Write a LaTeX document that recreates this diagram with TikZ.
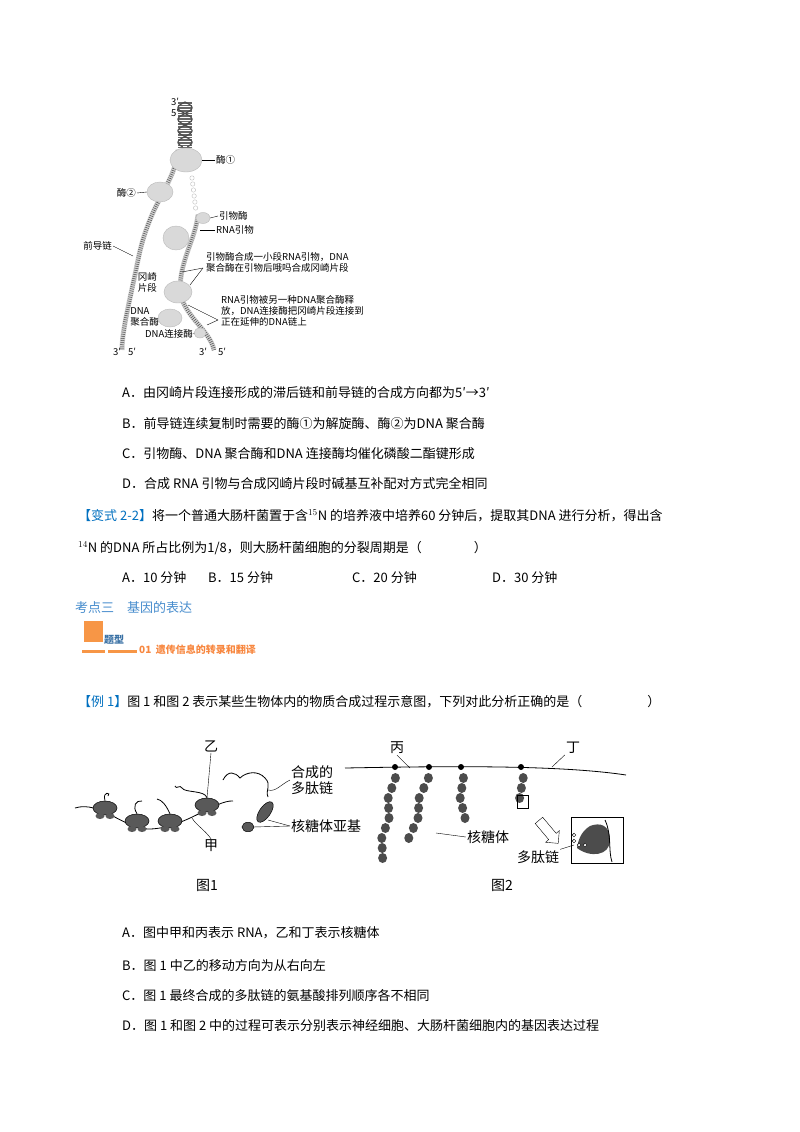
\documentclass[tikz,border=0pt]{standalone}
\usepackage{fontspec}
\setmainfont{Liberation Serif}
\newfontfamily\cjk{Noto Sans CJK SC}
\usetikzlibrary{positioning, shapes.arrows, shapes.geometric}
\definecolor{qblue}{RGB}{0,112,192}
\definecolor{kblue}{RGB}{70,140,205}
\definecolor{korange}{RGB}{247,150,70}
\tikzset{
  line/.style={anchor=base west, inner sep=0pt, font=\fontsize{13}{15}\selectfont\cjk},
  small/.style={inner sep=1pt, font=\fontsize{9.5}{11}\selectfont\cjk, align=left},
  fig/.style={inner sep=1pt, font=\fontsize{14}{16}\selectfont\cjk, align=left},
  blob/.style={fill=gray!30, draw=gray!55, line width=0.4pt},
  ladder/.style={line width=5pt, gray!35},
  rungs/.style={line width=4pt, dash pattern=on 0.5pt off 1.6pt, black!70},
  ribo/.style={fill=black!65, draw=black, line width=0.5pt},
}
\begin{document}
\begin{tikzpicture}[x=1pt,y=-1pt]
\useasboundingbox (0,0) rectangle (800,1132);
\fill[white] (0,0) rectangle (800,1132);

% replication fork
\draw[ladder] (178,150) .. controls (175,185) and (150,200) .. (138,260) .. controls (130,300) and (122,330) .. (122,350);
\draw[rungs] (178,150) .. controls (175,185) and (150,200) .. (138,260) .. controls (130,300) and (122,330) .. (122,350);
\draw[ladder] (198,215) .. controls (195,240) and (180,260) .. (180,290) .. controls (182,315) and (210,330) .. (214,350);
\draw[rungs] (198,215) .. controls (195,240) and (180,260) .. (180,290) .. controls (182,315) and (210,330) .. (214,350);
\foreach \i in {0,...,28}{
  \draw[black!60] ({178+0*\i},{102+1.6*\i}) -- ({192},{102+1.6*\i});
}
\draw[black!70, line width=1.2pt] plot[domain=0:14, samples=60] ({185+7*sin(\x*50)},{102+3.2*\x});
\draw[black!70, line width=1.2pt] plot[domain=0:14, samples=60] ({185-7*sin(\x*50)},{102+3.2*\x});
\foreach \y in {178,184,190,196,202,208}{
  \draw[gray!50, fill=white] ({192+0.12*(\y-178)},\y) circle (2.2pt);
}
\node[blob, ellipse, minimum width=32pt, minimum height=24pt] (e1) at (186,160) {};
\node[blob, ellipse, minimum width=26pt, minimum height=20pt] (e2) at (160,192) {};
\node[blob, ellipse, minimum width=14pt, minimum height=11pt] (prm) at (203,218) {};
\node[blob, ellipse, minimum width=26pt, minimum height=24pt] (pol1) at (176,238) {};
\node[blob, ellipse, minimum width=28pt, minimum height=22pt] (pol2) at (178,292) {};
\node[blob, ellipse, minimum width=24pt, minimum height=18pt] (pol3) at (170,318) {};
\node[blob, ellipse, minimum width=12pt, minimum height=10pt] (lig) at (200,333) {};

\node[small, anchor=west] (l1) at (215,160) {酶①};
\draw (l1.west) -- (e1.east);
\node[small, anchor=east] (l2) at (137,193) {酶②};
\draw (l2.east) -- (e2.west);
\node[small, anchor=west] (l3) at (218,216) {引物酶};
\draw (l3.west) -- (prm.east);
\node[small, anchor=west] (l4) at (215,230) {RNA引物};
\draw (l4.west) -- (200,230);
\node[small, anchor=east] (l5) at (113,246) {前导链};
\draw (l5.east) -- (133,256);
\node[small, anchor=west] (l6) at (205,262) {引物酶合成一小段RNA引物，DNA\\聚合酶在引物后哦吗合成冈崎片段};
\coordinate (c6) at (203,268);
\draw (c6) -- (182,272);
\draw (c6) -- (190,285);
\node[small, anchor=east] (l7) at (158,282) {冈崎\\片段};
\node[small, anchor=west] (l8) at (220,311) {RNA引物被另一种DNA聚合酶释\\放，DNA连接酶把冈崎片段连接到\\正在延伸的DNA链上};
\coordinate (c8) at (218,320);
\draw (c8) -- (188,305);
\draw (c8) -- (207,325);
\node[small, anchor=east] (l9) at (160,317) {DNA\\聚合酶};
\node[small, anchor=east] (l10) at (194,334) {DNA连接酶};
\draw (l10.east) -- (lig.west);
\node[small] (t3) at (175,102) {3′};
\node[small] (t5) at (175,113) {5′};
\node[small] (b3a) at (117,352) {3′};
\node[small] (b5a) at (132,352) {5′};
\node[small] (b3b) at (203,352) {3′};
\node[small] (b5b) at (222,352) {5′};

% questions
\node[line] (qa) at (122,397) {A．由冈崎片段连接形成的滞后链和前导链的合成方向都为5′→3′};
\node[line] (qb) at (122,428) {B．前导链连续复制时需要的酶①为解旋酶、酶②为DNA 聚合酶};
\node[line] (qc) at (122,458) {C．引物酶、DNA 聚合酶和DNA 连接酶均催化磷酸二酯键形成};
\node[line] (qd) at (122,488) {D．合成 RNA 引物与合成冈崎片段时碱基互补配对方式完全相同};
\node[line] (v1) at (78,520) {\textcolor{qblue}{【变式 2-2】}将一个普通大肠杆菌置于含$^{15}$N 的培养液中培养60 分钟后，提取其DNA 进行分析，得出含};
\node[line] (v2) at (78,552) {$^{14}$N 的DNA 所占比例为1/8，则大肠杆菌细胞的分裂周期是（　　　　）};
\node[line] (oa) at (122,582) {A．10 分钟};
\node[line] (ob) at (208,582) {B．15 分钟};
\node[line] (oc) at (352,582) {C．20 分钟};
\node[line] (od) at (492,582) {D．30 分钟};
\node[line, text=kblue] (kd) at (75,612) {考点三　基因的表达};
\fill[korange] (84,621) rectangle (103,642);
\fill[korange] (82,650) rectangle (105,653);
\fill[korange] (108,650) rectangle (137,653);
\node[inner sep=0pt, anchor=base west, font=\fontsize{10}{12}\selectfont\cjk\bfseries, text=kblue!80!black] (tx) at (104,643) {题型};
\node[inner sep=0pt, anchor=base west, font=\fontsize{10}{12}\selectfont\cjk\bfseries, text=korange!90!red] (tt) at (139,653) {01 \ 遗传信息的转录和翻译};
\node[line] (ex) at (78,706) {\textcolor{qblue}{【例 1】}图 1 和图 2 表示某些生物体内的物质合成过程示意图，下列对此分析正确的是（　　　　　）};

% figure 1
\draw[line width=0.8pt] (75,808) .. controls (100,800) and (125,830) .. (150,829) .. controls (185,828) and (215,800) .. (233,801);
\foreach \x/\y [count=\k] in {105/808, 137/821, 170/821, 207/805}{
  \node[ribo, ellipse, minimum width=24pt, minimum height=14pt] (r\k) at (\x,\y) {};
  \fill[black!65] (\x-5,\y+8) ellipse (4.5pt and 3pt);
  \fill[black!65] (\x+5,\y+8) ellipse (4.5pt and 3pt);
}
\draw[line width=0.8pt] (r1.north) .. controls (102,790) and (112,793) .. (108,796);
\draw[line width=0.8pt] (r2.north) .. controls (132,806) and (136,800) .. (142,801);
\draw[line width=0.8pt] (r3.north) .. controls (166,805) and (162,800) .. (157,799);
\draw[line width=0.8pt] (r4.north) .. controls (205,790) and (185,793) .. (182,788) .. controls (180,784) and (176,790) .. (175,786);
\node[fig] (yi) at (211,746) {乙};
\draw (yi.south) -- (r4.north);
\node[fig] (jia) at (211,846) {甲};
\draw (jia.north) .. controls (205,830) and (196,825) .. (192,818);
\draw[line width=0.8pt] (223,780) .. controls (228,770) and (235,772) .. (240,778) .. controls (246,772) and (258,770) .. (265,778) .. controls (272,785) and (265,790) .. (268,797);
\node[ribo, ellipse, rotate=55, minimum width=24pt, minimum height=11pt] (s1) at (265,812) {};
\node[ribo, ellipse, minimum width=12pt, minimum height=7pt] (s2) at (248,827) {};
\node[fig, anchor=west] (hc) at (290,780) {合成的\\多肽链};
\draw (hc.west) .. controls (280,785) and (276,792) .. (268,790);
\node[fig, anchor=west] (sub) at (290,826) {核糖体亚基};
\draw (sub.west) -- (253,827);
\draw (sub.west) -- (268,820);
\node[fig] (f1) at (207,885) {图1};

% figure 2
\draw[line width=0.8pt] (345,768) .. controls (450,766) and (560,765) .. (626,775);
\node[fig] (bing) at (397,748) {丙};
\draw (bing.south) -- (410,768);
\node[fig] (ding) at (573,748) {丁};
\draw (ding.south west) -- (552,767);
\foreach \ax/\len/\dx [count=\c] in {395/9/-1.6, 429/7/-2.6, 461/5/0.4, 521/3/0.2}{
  \fill (\ax,767) circle (3pt);
  \foreach \j in {1,...,\len}{
    \fill[black!70] ({\ax+\dx*\j+2*sin(\j*90)},{768+10*\j}) ellipse (4.5pt and 5pt);
  }
}
\node[draw, inner sep=0pt, minimum width=11pt, minimum height=13pt] (zoombox) at (523,802) {};
\node[draw, single arrow, rotate=-50, fill=white, minimum height=30pt, minimum width=18pt, single arrow head extend=3pt] (arr) at (547,830) {};
\node[draw, line width=0.8pt, minimum width=52pt, minimum height=46pt, inner sep=0pt] (big) at (597,840) {};
\fill[black!70] (610,840) .. controls (610,825) and (600,822) .. (590,826) .. controls (580,832) and (578,842) .. (577,848) .. controls (590,858) and (610,856) .. (610,840);
\draw[line width=0.8pt] (605,820) .. controls (612,835) and (608,850) .. (612,862);
\foreach \px/\py in {574/835, 574/841, 579/845, 585/845}{
  \draw[fill=white] (\px,\py) circle (1.8pt);
}
\node[fig] (hbt) at (488,837) {核糖体};
\draw (hbt.west) -- (436,833);
\node[fig] (dtl) at (538,857) {多肽链};
\draw (dtl.north east) -- (574,845);
\node[fig] (f2) at (502,885) {图2};

% answers
\node[line] (aa) at (122,937) {A．图中甲和丙表示 RNA，乙和丁表示核糖体};
\node[line] (ab) at (122,970) {B．图 1 中乙的移动方向为从右向左};
\node[line] (ac) at (122,1000) {C．图 1 最终合成的多肽链的氨基酸排列顺序各不相同};
\node[line] (ad) at (122,1030) {D．图 1 和图 2 中的过程可表示分别表示神经细胞、大肠杆菌细胞内的基因表达过程};
\end{tikzpicture}
\end{document}
